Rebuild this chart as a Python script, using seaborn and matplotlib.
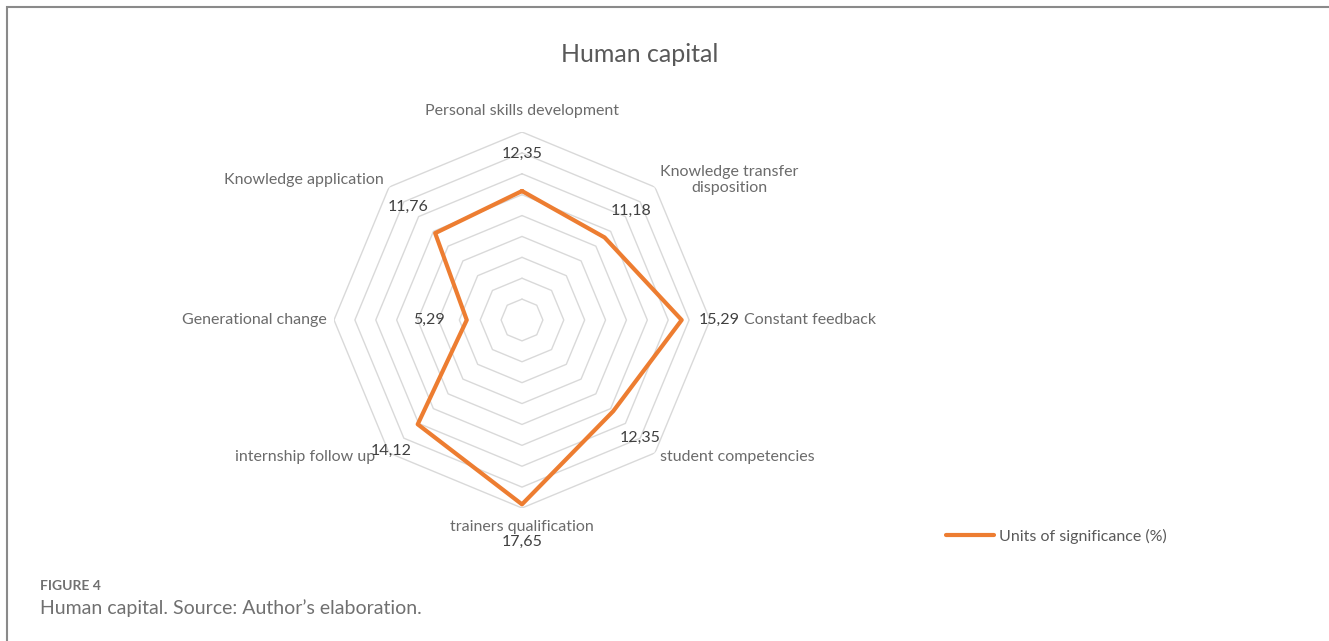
import numpy as np
import seaborn as sns
import matplotlib.pyplot as plt
from matplotlib.patches import Rectangle
from matplotlib.lines import Line2D

categories = ["Personal skills development", "Knowledge transfer\ndisposition",
              "Constant feedback", "student competencies", "trainers qualification",
              "internship follow up", "Generational change", "Knowledge application"]
values = [12.35, 11.18, 15.29, 12.35, 17.65, 14.12, 5.29, 11.76]
value_labels = ["12,35", "11,18", "15,29", "12,35", "17,65", "14,12", "5,29", "11,76"]
rings = [2, 4, 6, 8, 10, 12, 14, 16, 18]
series_name = "Units of significance (%)"

sns.set_theme(style="white")
plt.rcParams["font.family"] = ["Lato", "DejaVu Sans"]

orange = "#ED7D31"
grid_col = "#d9d9d9"
label_col = "#6b6b6b"
value_col = "#404040"

fig = plt.figure(figsize=(13.29, 6.41), dpi=100)

# panel border (top and left edges of the figure frame)
fig.patches.append(Rectangle((7 / 1329, -0.1), 1.2, 1 - 7 / 641 + 0.1,
                             transform=fig.transFigure, fill=False,
                             edgecolor="#8a8a8a", linewidth=1.5))

cx, cy, R = 522, 320, 188
ax = fig.add_axes([(cx - R) / 1329, 1 - (cy + R) / 641, 2 * R / 1329, 2 * R / 641],
                  projection="polar")
ax.set_theta_zero_location("N")
ax.set_theta_direction(-1)

n = len(categories)
theta = np.linspace(0, 2 * np.pi, n, endpoint=False)
closed = np.append(theta, theta[0])

# octagonal grid
for r in rings:
    ax.plot(closed, [r] * (n + 1), color=grid_col, linewidth=1.0, zorder=1)

sns.lineplot(x=closed, y=values + values[:1], ax=ax, sort=False, color=orange,
             linewidth=3.0, estimator=None, zorder=3)
ax.set_ylim(0, 18)
ax.axis("off")

# data labels
for t, v, lab in zip(theta, values, value_labels):
    ax.text(t, v + 3.6, lab, ha="center", va="center", fontsize=11.5,
            color=value_col, zorder=4)

# category labels
for i, (t, cat) in enumerate(zip(theta, categories)):
    s, c = np.sin(t), np.cos(t)
    ha = "left" if s > 0.1 else ("right" if s < -0.1 else "center")
    va = "center"
    dx, dy = s * 7, c * 7
    if c > 0.9:
        dy = 21
    elif c < -0.9:
        dy = -19
    elif abs(c) > 0.5:
        dy = 7 if c > 0 else -4
    if s > 0.9:
        dx = 34       # keep clear of the 15,29 value label
    if s < -0.5 and c < -0.5:
        dx = -14      # keep clear of the 14,12 value label
    ax.annotate(cat, xy=(t, 18), xytext=(dx, dy), textcoords="offset pixels",
                ha=ha, va=va, fontsize=11.5, color=label_col,
                multialignment="center", annotation_clip=False)

fig.text(640 / 1329, 1 - 55 / 641, "Human capital", ha="center", va="center",
         fontsize=18, color="#595959")

handle = Line2D([], [], color=orange, linewidth=3.0, solid_capstyle="round")
fig.legend([handle], [series_name], loc="center left",
           bbox_to_anchor=(946 / 1329, 1 - 536 / 641), frameon=False,
           fontsize=11.5, labelcolor="#595959", handlelength=3.0,
           handletextpad=0.3, borderaxespad=0, borderpad=0)

fig.text(40 / 1329, 1 - 586 / 641, "FIGURE 4", ha="left", va="center",
         fontsize=10, color="#707070", fontweight="bold")
fig.text(40 / 1329, 1 - 608 / 641, "Human capital. Source: Author\u2019s elaboration.",
         ha="left", va="center", fontsize=14, color="#707070")

fig.savefig("out.png", dpi=100, facecolor="white")
